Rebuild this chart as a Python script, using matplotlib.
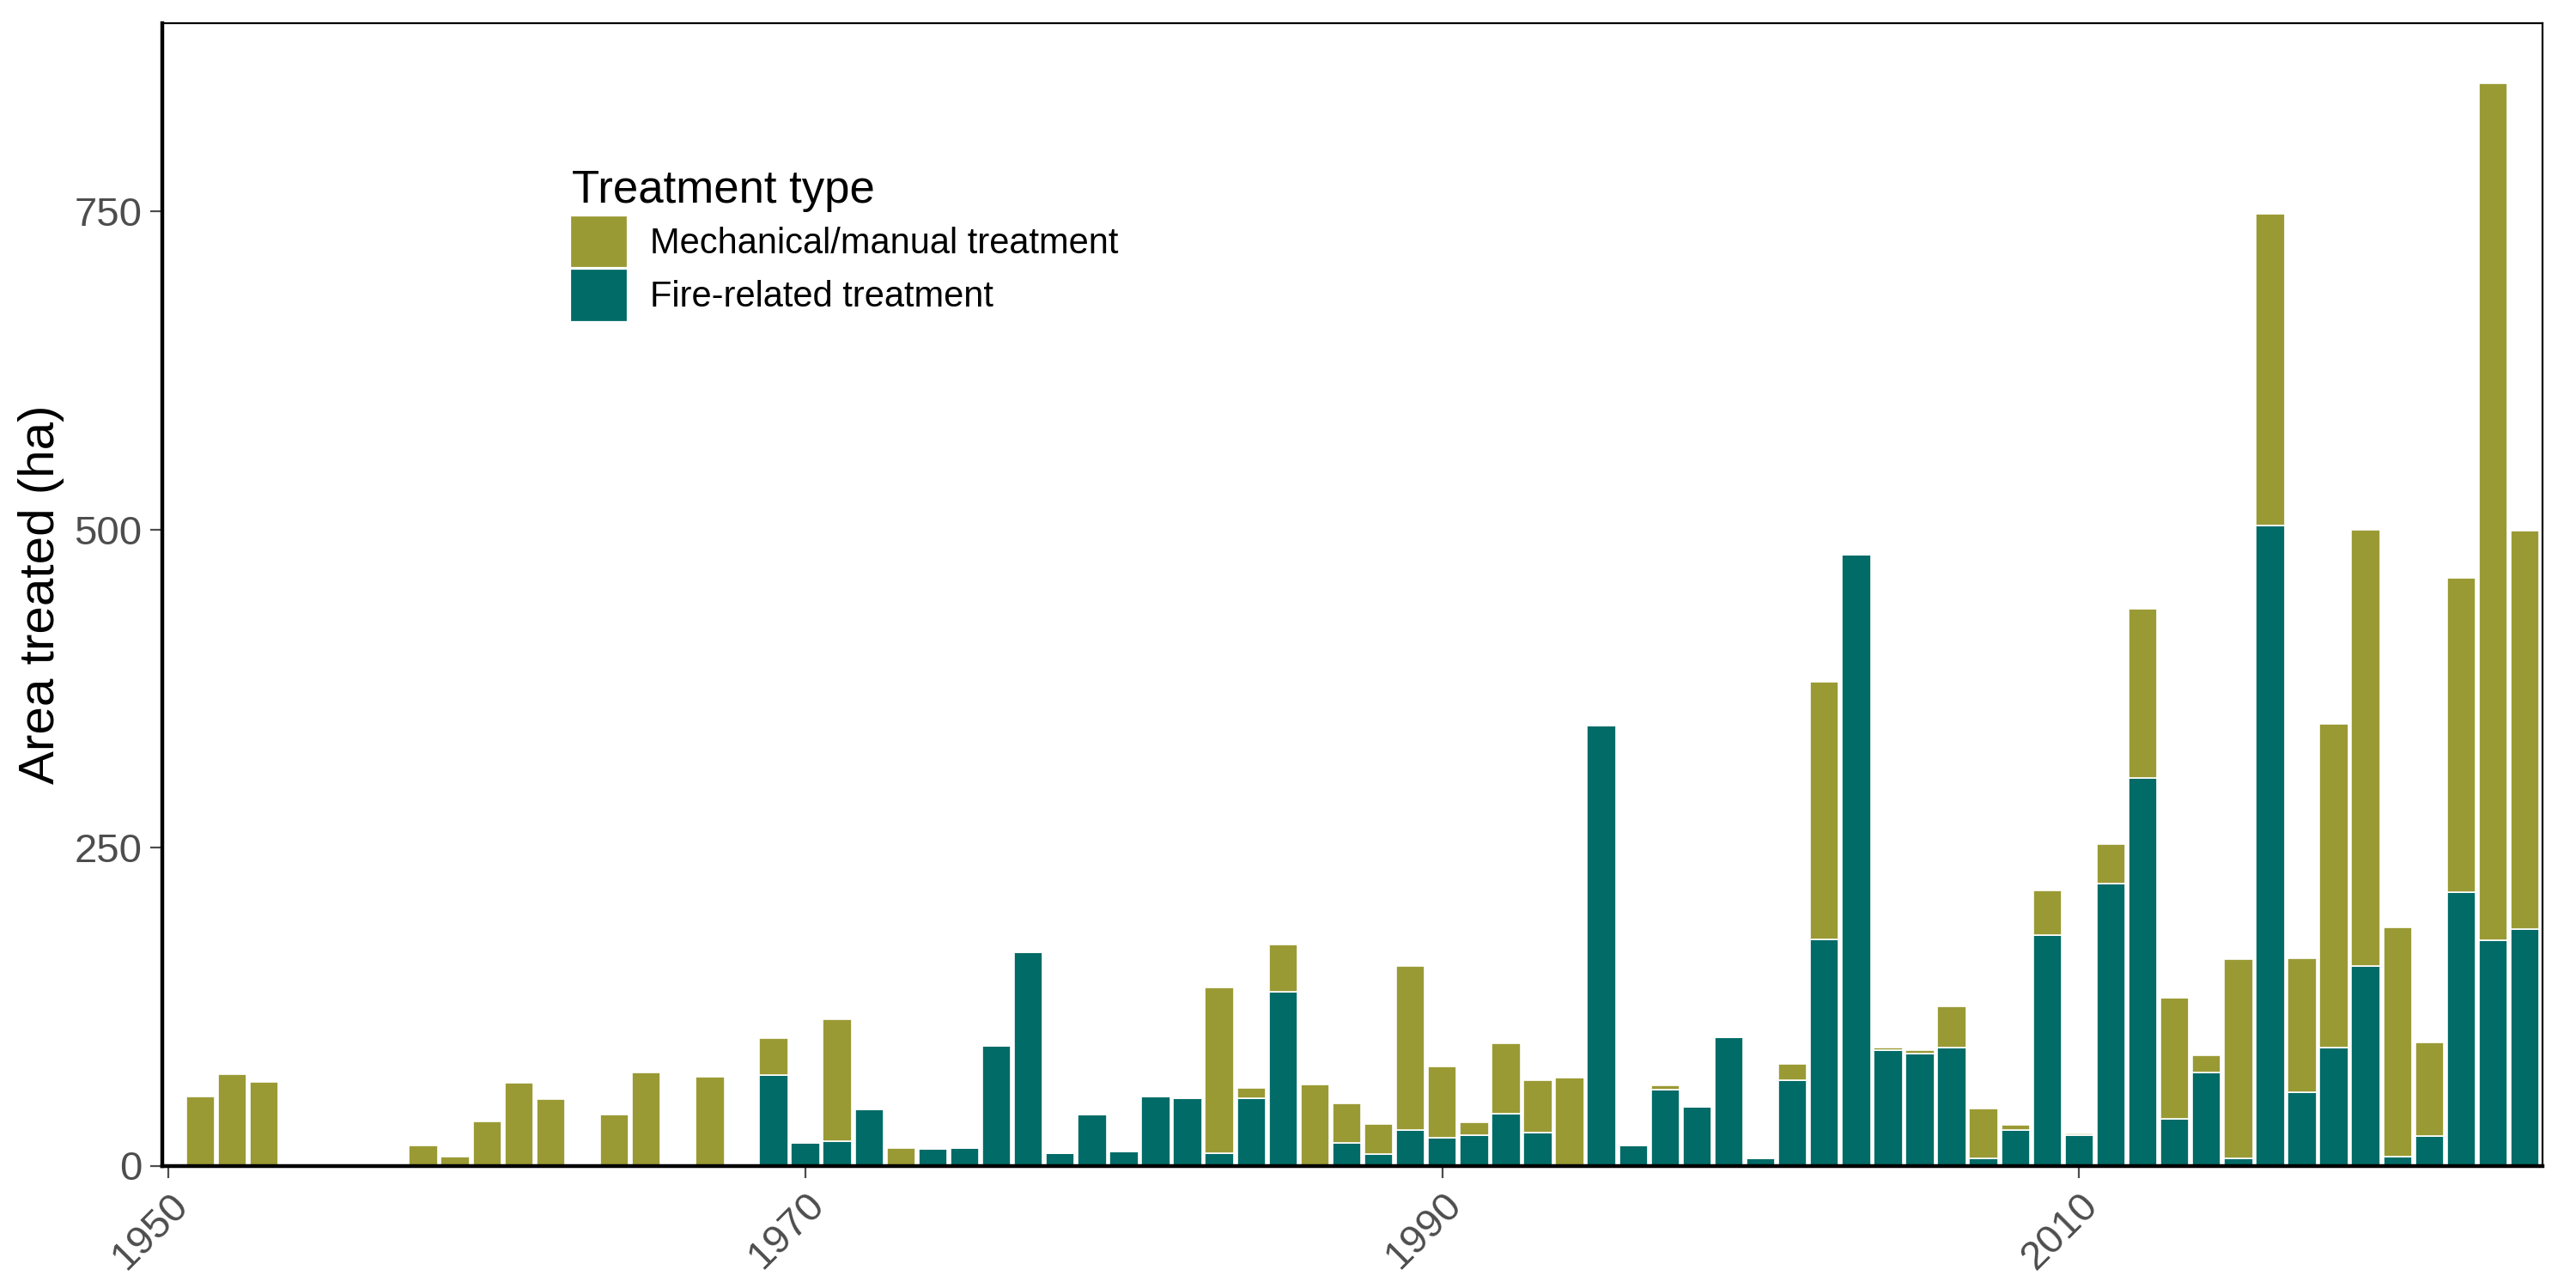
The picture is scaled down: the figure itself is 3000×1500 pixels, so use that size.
import matplotlib
matplotlib.use("Agg")
import matplotlib.pyplot as plt
from matplotlib.patches import Patch

years = [1951,1952,1953,1958,1959,1960,1961,1962,1964,1965,1967,1969,1970,1971,1972,1973,1974,1975,1976,1977,1978,1979,1980,1981,1982,1983,1984,1985,1986,1987,1988,1989,1990,1991,1992,1993,1994,1995,1996,1997,1998,1999,2000,2001,2002,2003,2004,2005,2006,2007,2008,2009,2010,2011,2012,2013,2014,2015,2016,2017,2018,2019,2020,2021,2022,2023,2024]
total = [54,72,66,16,7,35,65,52,40,73,70,100,18,115,44,14,13,14,94,168,10,40,11,54,53,140,61,174,64,49,33,157,78,34,96,67,69,346,16,63,46,101,6,80,380,480,93,91,125,45,32,216,25,253,438,132,87,162,748,163,347,500,187,97,462,851,499]
fire = [0,0,0,0,0,0,0,0,0,0,0,71,18,19,44,0,13,14,94,168,10,40,11,54,53,10,53,137,0,18,9,28,22,24,41,26,0,346,16,60,46,101,6,67,178,480,91,88,93,6,28,181,24,222,305,37,73,6,503,58,93,157,7,23,215,177,186]
mech = [t - f for t, f in zip(total, fire)]

c_mech = "#9A9A35"
c_fire = "#006B67"

plt.rcParams['font.family'] = ['Liberation Sans', 'DejaVu Sans']
fig = plt.figure(figsize=(15, 7.5), dpi=200)
ax = fig.add_axes([0.063, 0.095, 0.924, 0.887])
ax.bar(years, fire, width=0.9, color=c_fire, edgecolor="white", linewidth=0.6)
ax.bar(years, mech, bottom=fire, width=0.9, color=c_mech, edgecolor="white", linewidth=0.6)

ax.set_xlim(1949.8, 2024.55)
ax.set_ylim(0, 898)
ax.set_xticks([1950, 1970, 1990, 2010])
ax.set_yticks([0, 250, 500, 750])
ax.tick_params(axis='x', labelrotation=45, labelsize=17, colors="#4d4d4d", length=5)
ax.tick_params(axis='y', labelsize=17, colors="#4d4d4d", length=5)
for lbl in ax.get_xticklabels():
    lbl.set_ha('right'); lbl.set_rotation_mode('anchor')
for s in ['top', 'right']:
    ax.spines[s].set_linewidth(0.8)
for s in ['left', 'bottom']:
    ax.spines[s].set_linewidth(1.6)
ax.set_ylabel("Area treated (ha)", fontsize=21)

handles = [Patch(color=c_mech, label="Mechanical/manual treatment"),
           Patch(color=c_fire, label="Fire-related treatment")]
leg = ax.legend(handles=handles, title="Treatment type", loc="upper left",
                bbox_to_anchor=(0.166, 0.885), frameon=False, fontsize=15,
                title_fontsize=19, handlelength=1.5, handleheight=1.7,
                handletextpad=0.7, labelspacing=0.15, borderaxespad=0)
leg._legend_box.align = "left"
fig.savefig("out.png")
